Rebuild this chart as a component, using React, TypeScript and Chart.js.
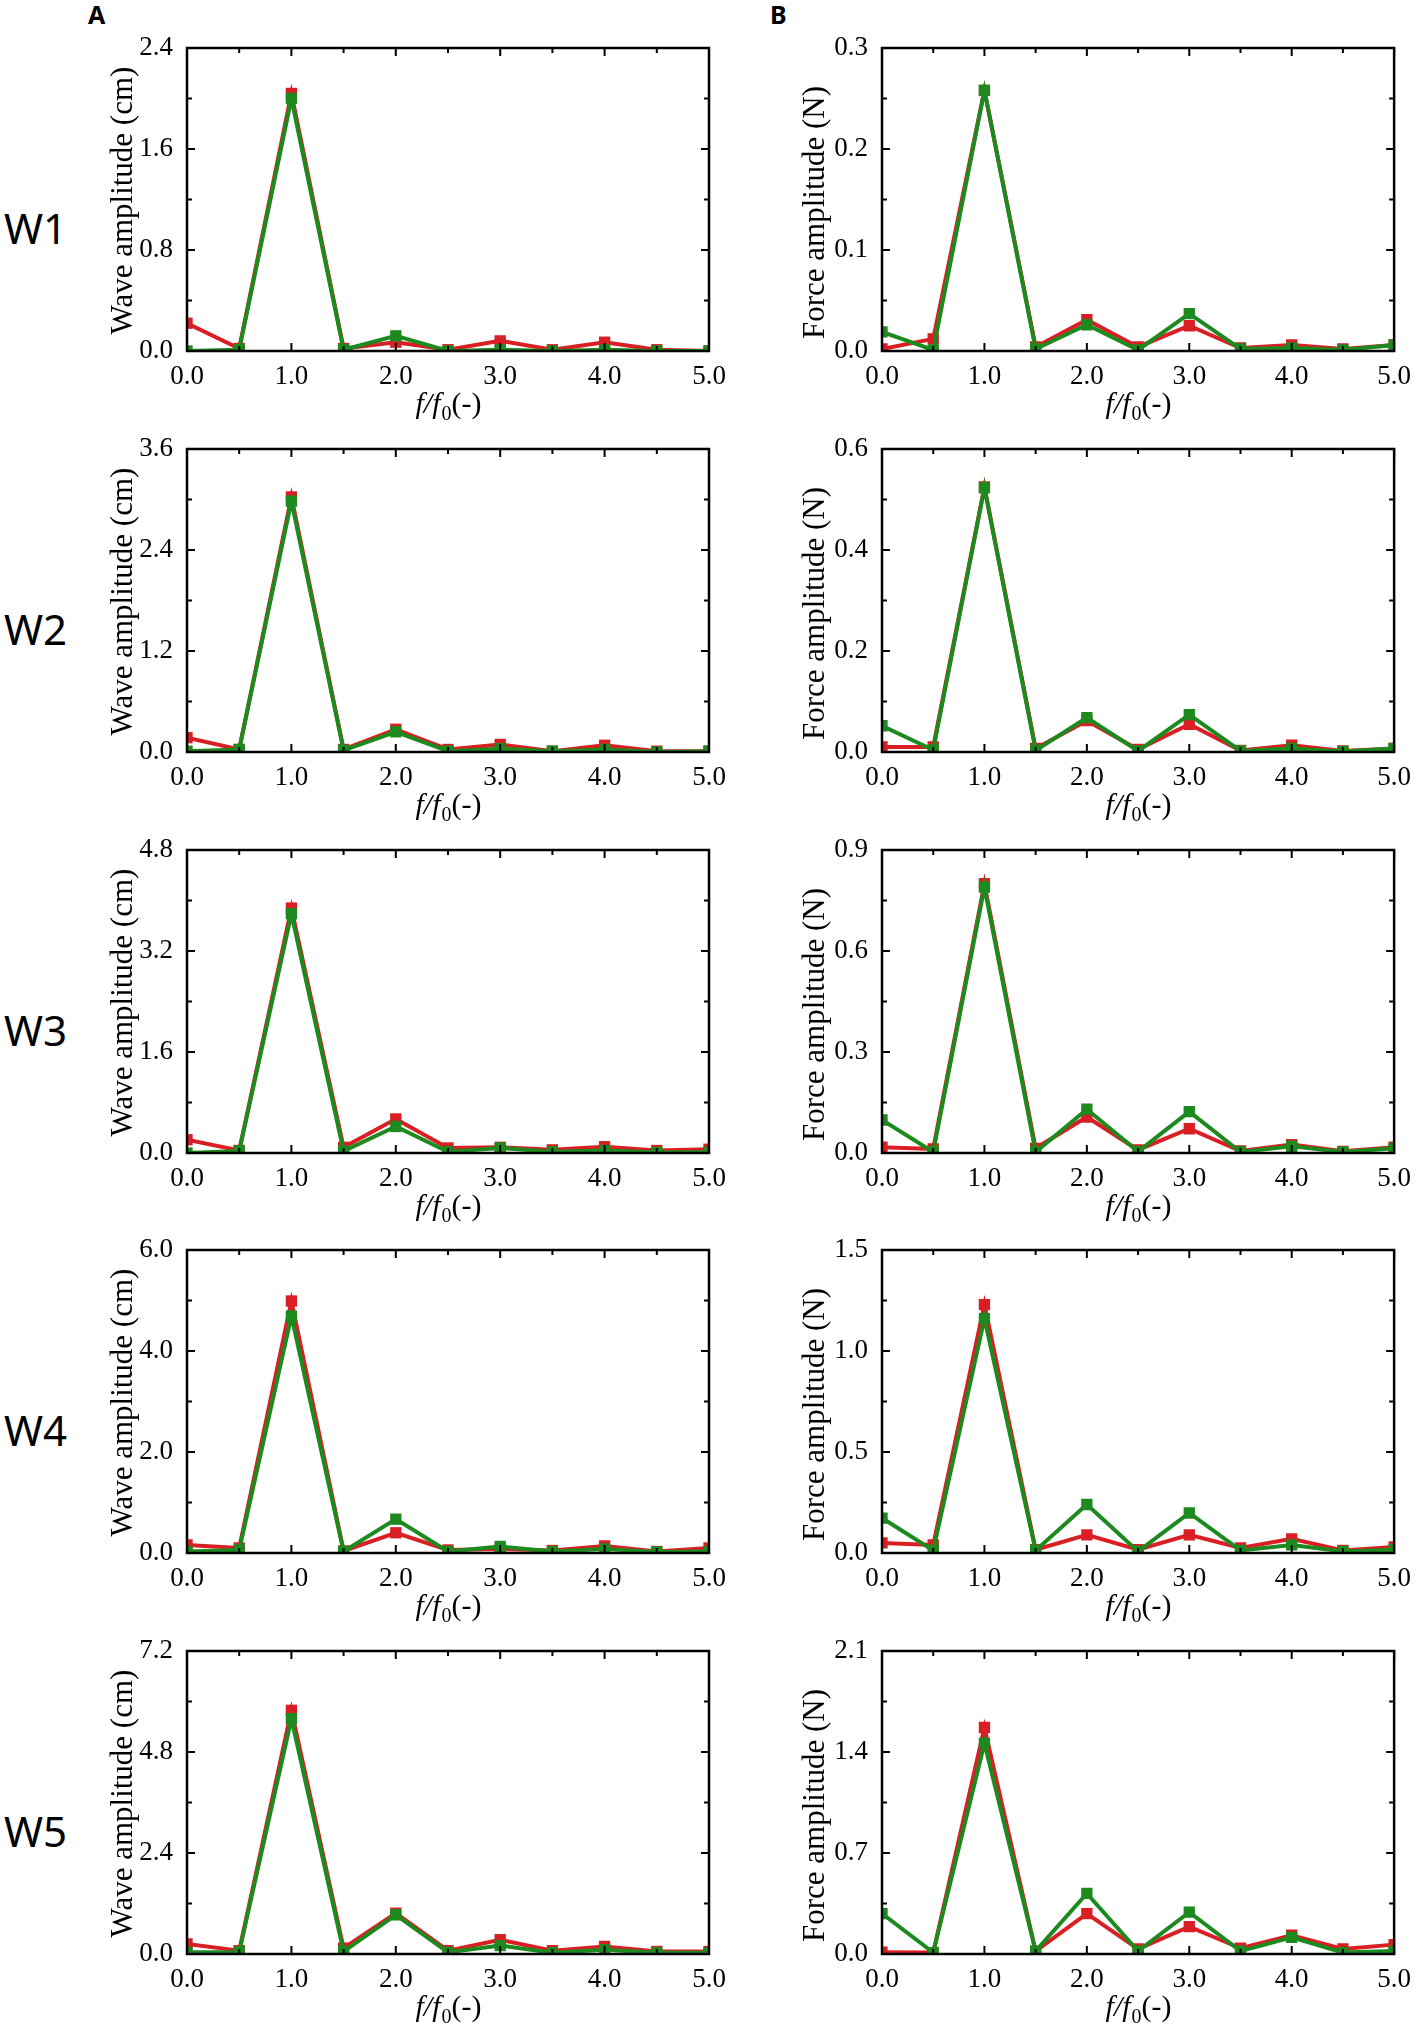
import { useEffect, useRef } from 'react'
import { Chart, registerables } from 'chart.js'

Chart.register(...registerables)

// frequency ratio f/f0 of every harmonic bin
const FREQ = [0, 0.5, 1, 1.5, 2, 2.5, 3, 3.5, 4, 4.5, 5]
const X_TICKS = [0, 1, 2, 3, 4, 5]
const X_MINOR = [0.5, 1.5, 2.5, 3.5, 4.5]

const CASES = ['W1', 'W2', 'W3', 'W4', 'W5']
const WAVE_MAX = [2.4, 3.6, 4.8, 6.0, 7.2]
const FORCE_MAX = [0.3, 0.6, 0.9, 1.5, 2.1]

// column A: wave amplitude (cm)
const WAVE_RED_W1 = [0.22, 0.02, 2.04, 0.02, 0.07, 0.01, 0.08, 0.01, 0.07, 0.01, 0.0]
const WAVE_GREEN_W1 = [0.0, 0.01, 2.0, 0.01, 0.12, 0.0, 0.01, 0.0, 0.01, 0.0, 0.0]
const WAVE_RED_W2 = [0.17, 0.03, 3.03, 0.03, 0.27, 0.03, 0.09, 0.01, 0.08, 0.01, 0.01]
const WAVE_GREEN_W2 = [0.01, 0.03, 2.98, 0.02, 0.24, 0.01, 0.04, 0.01, 0.03, 0.0, 0.01]
const WAVE_RED_W3 = [0.21, 0.04, 3.88, 0.09, 0.54, 0.08, 0.09, 0.05, 0.1, 0.04, 0.06]
const WAVE_GREEN_W3 = [0.0, 0.03, 3.79, 0.03, 0.42, 0.02, 0.08, 0.02, 0.04, 0.01, 0.01]
const WAVE_RED_W4 = [0.16, 0.1, 4.99, 0.04, 0.4, 0.06, 0.08, 0.05, 0.14, 0.03, 0.1]
const WAVE_GREEN_W4 = [0.03, 0.06, 4.69, 0.03, 0.67, 0.03, 0.13, 0.03, 0.08, 0.02, 0.03]
const WAVE_RED_W5 = [0.24, 0.08, 5.79, 0.14, 0.97, 0.08, 0.34, 0.08, 0.18, 0.06, 0.06]
const WAVE_GREEN_W5 = [0.04, 0.05, 5.59, 0.06, 0.93, 0.04, 0.2, 0.03, 0.1, 0.03, 0.03]

// column B: force amplitude (N)
const FORCE_RED_W1 = [0.002, 0.012, 0.258, 0.004, 0.031, 0.004, 0.025, 0.003, 0.006, 0.002, 0.006]
const FORCE_GREEN_W1 = [0.019, 0.001, 0.258, 0.002, 0.026, 0.001, 0.037, 0.002, 0.003, 0.001, 0.006]
const FORCE_RED_W2 = [0.01, 0.01, 0.525, 0.007, 0.062, 0.005, 0.055, 0.003, 0.0135, 0.002, 0.007]
const FORCE_GREEN_W2 = [0.052, 0.004, 0.523, 0.003, 0.068, 0.002, 0.074, 0.002, 0.007, 0.001, 0.007]
const FORCE_RED_W3 = [0.017, 0.012, 0.8, 0.014, 0.107, 0.009, 0.072, 0.006, 0.025, 0.005, 0.017]
const FORCE_GREEN_W3 = [0.098, 0.003, 0.79, 0.003, 0.13, 0.004, 0.123, 0.003, 0.02, 0.003, 0.014]
const FORCE_RED_W4 = [0.05, 0.04, 1.23, 0.016, 0.09, 0.016, 0.09, 0.025, 0.07, 0.013, 0.03]
const FORCE_GREEN_W4 = [0.173, 0.013, 1.16, 0.013, 0.24, 0.008, 0.198, 0.013, 0.04, 0.008, 0.016]
const FORCE_RED_W5 = [0.012, 0.01, 1.57, 0.02, 0.28, 0.035, 0.19, 0.04, 0.13, 0.035, 0.065]
const FORCE_GREEN_W5 = [0.28, 0.01, 1.46, 0.02, 0.42, 0.02, 0.29, 0.02, 0.115, 0.01, 0.02]

const WAVE_RED = [WAVE_RED_W1, WAVE_RED_W2, WAVE_RED_W3, WAVE_RED_W4, WAVE_RED_W5]
const WAVE_GREEN = [WAVE_GREEN_W1, WAVE_GREEN_W2, WAVE_GREEN_W3, WAVE_GREEN_W4, WAVE_GREEN_W5]
const FORCE_RED = [FORCE_RED_W1, FORCE_RED_W2, FORCE_RED_W3, FORCE_RED_W4, FORCE_RED_W5]
const FORCE_GREEN = [FORCE_GREEN_W1, FORCE_GREEN_W2, FORCE_GREEN_W3, FORCE_GREEN_W4, FORCE_GREEN_W5]

// layout (page pixels)
const ROW_TOP = [48, 449, 850, 1250, 1651]
const PLOT_H = 303
const COL_LEFT = [187, 882]
const COL_W = [522, 521]
const PAD_RIGHT = [31, 18]
const Y_AXIS_W = 117
const TOP_PAD = 40
const X_AXIS_H = 87

const RED = '#d91e24'
const GREEN = '#1c8a1f'
const SERIF = '"Liberation Serif", "Times New Roman", serif'

interface PanelProps {
  max: number
  red: number[]
  green: number[]
  yTitle: string
  titleShift: number
  titleGap: number
  left: number
  top: number
  width: number
  padRight: number
}

function Panel({ max, red, green, yTitle, titleShift, titleGap, left, top, width, padRight }: PanelProps) {
  const canvasRef = useRef<HTMLCanvasElement>(null)
  const w = Y_AXIS_W + width + padRight
  const h = TOP_PAD + PLOT_H + X_AXIS_H

  useEffect(() => {
    if (!canvasRef.current) return
    const yTicks = [0, 1, 2, 3].map((i) => (max * i) / 3)
    const yMinor = [1, 3, 5].map((i) => (max * i) / 6)

    const framePlugin = {
      id: 'frame',
      afterDraw(chart: Chart) {
        const { ctx, chartArea: a } = chart
        const x = chart.scales.x
        const y = chart.scales.y
        ctx.save()
        ctx.strokeStyle = '#000'
        ctx.lineWidth = 2
        ctx.beginPath()
        const tx = (v: number, len: number) => {
          const px = x.getPixelForValue(v)
          ctx.moveTo(px, a.bottom); ctx.lineTo(px, a.bottom - len)
          ctx.moveTo(px, a.top); ctx.lineTo(px, a.top + len)
        }
        const ty = (v: number, len: number) => {
          const py = y.getPixelForValue(v)
          ctx.moveTo(a.left, py); ctx.lineTo(a.left + len, py)
          ctx.moveTo(a.right, py); ctx.lineTo(a.right - len, py)
        }
        X_TICKS.forEach((v) => tx(v, 8))
        X_MINOR.forEach((v) => tx(v, 5))
        yTicks.forEach((v) => ty(v, 8))
        yMinor.forEach((v) => ty(v, 5))
        ctx.stroke()
        ctx.lineWidth = 2.5
        ctx.strokeRect(a.left, a.top, a.right - a.left, a.bottom - a.top)

        // y title
        ctx.fillStyle = '#000'
        ctx.font = `31px ${SERIF}`
        ctx.textAlign = 'center'
        ctx.textBaseline = 'middle'
        ctx.save()
        ctx.translate(a.left - titleGap, (a.top + a.bottom) / 2 + titleShift)
        ctx.rotate(-Math.PI / 2)
        ctx.fillText(yTitle, 0, 0)
        ctx.restore()

        // x title: f/f0(-)
        ctx.textAlign = 'left'
        ctx.textBaseline = 'alphabetic'
        const main = `italic 30px ${SERIF}`
        const sub = `20px ${SERIF}`
        const up = `30px ${SERIF}`
        ctx.font = main
        const w1 = ctx.measureText('f/f').width
        ctx.font = sub
        const w2 = ctx.measureText('0').width
        ctx.font = up
        const w3 = ctx.measureText('(-)').width
        let sx = (a.left + a.right) / 2 - (w1 + w2 + w3) / 2
        const base = a.bottom + 62
        ctx.font = main
        ctx.fillText('f/f', sx, base)
        sx += w1 + 1
        ctx.font = sub
        ctx.fillText('0', sx, base + 7)
        sx += w2
        ctx.font = up
        ctx.fillText('(-)', sx, base)
        ctx.restore()
      },
    }

    const series = (vals: number[]) => FREQ.map((f, i) => ({ x: f, y: vals[i] }))
    const chart = new Chart(canvasRef.current, {
      type: 'line',
      data: {
        datasets: [
          {
            data: series(red),
            borderColor: RED,
            backgroundColor: RED,
            borderWidth: 4,
            pointStyle: 'rect',
            pointRadius: 8,
            pointBorderWidth: 0,
            order: 2,
          },
          {
            data: series(green),
            borderColor: GREEN,
            backgroundColor: GREEN,
            borderWidth: 4,
            pointStyle: 'rect',
            pointRadius: 8,
            pointBorderWidth: 0,
            order: 1,
          },
        ],
      },
      options: {
        responsive: false,
        animation: false,
        layout: { padding: { top: TOP_PAD, right: padRight, left: 0, bottom: 0 } },
        plugins: { legend: { display: false }, tooltip: { enabled: false } },
        scales: {
          x: {
            type: 'linear',
            min: 0,
            max: 5,
            grid: { display: false, drawTicks: false },
            border: { display: false },
            afterBuildTicks: (s: any) => { s.ticks = X_TICKS.map((v) => ({ value: v })) },
            afterFit: (s: any) => { s.height = X_AXIS_H },
            ticks: {
              autoSkip: false,
              maxRotation: 0,
              padding: 10,
              color: '#000',
              font: { family: SERIF, size: 27 },
              callback: (v: any) => Number(v).toFixed(1),
            },
          },
          y: {
            min: 0,
            max,
            grid: { display: false, drawTicks: false },
            border: { display: false },
            afterBuildTicks: (s: any) => { s.ticks = yTicks.map((v) => ({ value: v })) },
            afterFit: (s: any) => { s.width = Y_AXIS_W },
            ticks: {
              padding: 14,
              color: '#000',
              font: { family: SERIF, size: 27 },
              callback: (v: any) => Number(v).toFixed(1),
            },
          },
        },
      },
      plugins: [framePlugin],
    })
    return () => { chart.destroy() }
  }, [max, red, green, yTitle, titleShift, titleGap, padRight])

  return (
    <canvas
      ref={canvasRef}
      width={w}
      height={h}
      style={{ position: 'absolute', left: left - Y_AXIS_W, top: top - TOP_PAD, width: w, height: h }}
    />
  )
}

export default function App() {
  return (
    <div style={{ position: 'absolute', left: 0, top: 0, width: 1423, height: 2025, overflow: 'hidden', background: '#fff' }}>
      <div style={{ position: 'absolute', left: 88, top: -3, font: 'bold 25px "Noto Sans", sans-serif', lineHeight: '34px' }}>A</div>
      <div style={{ position: 'absolute', left: 770, top: -3, font: 'bold 25px "Noto Sans", sans-serif', lineHeight: '34px' }}>B</div>
      {CASES.map((name, r) => (
        <div key={name}>
          <div
            style={{
              position: 'absolute',
              left: 4,
              top: ROW_TOP[r] + PLOT_H / 2 + 28 - 30,
              font: '42px "Noto Sans", sans-serif',
              lineHeight: '60px',
            }}
          >
            {name}
          </div>
          <Panel
            max={WAVE_MAX[r]}
            red={WAVE_RED[r]}
            green={WAVE_GREEN[r]}
            yTitle="Wave amplitude (cm)"
            titleShift={1}
            titleGap={63}
            left={COL_LEFT[0]}
            top={ROW_TOP[r]}
            width={COL_W[0]}
            padRight={PAD_RIGHT[0]}
          />
          <Panel
            max={FORCE_MAX[r]}
            red={FORCE_RED[r]}
            green={FORCE_GREEN[r]}
            yTitle="Force amplitude (N)"
            titleShift={13}
            titleGap={66}
            left={COL_LEFT[1]}
            top={ROW_TOP[r]}
            width={COL_W[1]}
            padRight={PAD_RIGHT[1]}
          />
        </div>
      ))}
    </div>
  )
}
